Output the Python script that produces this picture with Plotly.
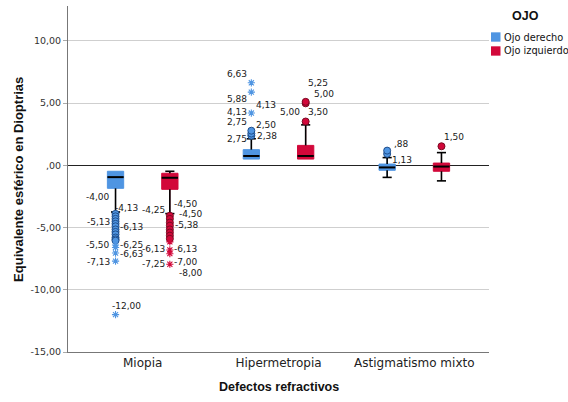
import plotly.graph_objects as go

# ---------------- data ----------------
categories = ["Miopia", "Hipermetropia", "Astigmatismo mixto"]
y_tick_vals = [-15, -10, -5, 0, 5, 10]
y_tick_text = ["-15,00", "-10,00", "-5,00", ",00", "5,00", "10,00"]

# Ojo derecho (right eye)
der_q1 = [-1.85, 0.50, -0.40]
der_median = [-0.95, 0.75, -0.17]
der_q3 = [-0.48, 1.26, 0.10]
der_lower = [-3.75, 0.50, -0.97]
der_upper = [-0.48, 2.13, 0.62]
der_out_cat = [0] * 12 + [1, 1, 1] + [2, 2]
der_out_val = [-3.9, -4.1, -4.3, -4.5, -4.7, -4.9, -5.15, -5.35, -5.55, -5.8, -5.95, -6.05,
               2.38, 2.55, 2.78, 0.92, 1.18]
der_ext_cat = [0, 0, 0, 0, 0, 1, 1, 1]
der_ext_val = [-6.4, -6.6, -7.05, -7.7, -12.0, 4.2, 5.88, 6.63]

# Ojo izquierdo (left eye)
izq_q1 = [-1.93, 0.50, -0.48]
izq_median = [-1.00, 0.75, -0.10]
izq_q3 = [-0.64, 1.60, 0.18]
izq_lower = [-3.88, 0.50, -1.25]
izq_upper = [-0.48, 3.25, 1.02]
izq_out_cat = [0] * 8 + [1, 1, 1] + [2]
izq_out_val = [-4.05, -4.3, -4.6, -4.85, -5.15, -5.4, -5.65, -5.9,
               3.52, 4.98, 5.1, 1.53]
izq_ext_cat = [0, 0, 0, 0]
izq_ext_val = [-6.15, -6.8, -7.1, -7.95]

# outlier case labels (text, x in axis units, y in axis units, side)
label_text = ["-4,00", "-4,13", "-5,13", "-6,13", "-5,50", "-6,25", "-6,63", "-7,13", "-12,00",
              "-4,50", "-4,25", "-4,50", "-5,38", "-6,13", "-6,13", "-7,25", "-7,00", "-8,00",
              "6,63", "5,88", "4,13", "4,13", "2,75", "2,50", "2,75", "2,38",
              "5,25", "5,00", "5,00", "3,50",
              ",88", "1,13", "1,50"]
label_x = [-0.225, -0.219, -0.225, -0.179, -0.225, -0.179, -0.182, -0.225, -0.238,
           0.217, 0.182, 0.253, 0.226, 0.182, 0.219, 0.182, 0.219, 0.253,
           0.780, 0.780, 0.816, 0.780, 0.780, 0.816, 0.780, 0.829,
           1.200, 1.248, 1.175, 1.200,
           1.836, 1.822, 2.204]
label_y = [-2.52, -3.41, -4.53, -4.98, -6.40, -6.40, -7.15, -7.79, -11.28,
           -3.11, -3.59, -3.91, -4.80, -6.75, -6.75, -7.93, -7.75, -8.63,
           7.34, 5.30, 4.84, 4.26, 3.50, 3.24, 2.09, 2.35,
           6.59, 5.70, 4.31, 4.31,
           1.71, 0.43, 2.30]
label_side = ["r", "l", "r", "l", "r", "l", "l", "r", "l",
              "l", "r", "l", "l", "r", "l", "r", "l", "l",
              "r", "r", "l", "r", "r", "l", "r", "l",
              "l", "l", "r", "l",
              "l", "l", "l"]

series_names = ["Ojo derecho", "Ojo izquierdo"]

# ---------------- style ----------------
BLUE = "#4F95E2"
RED = "#D2083A"
BLUE_EDGE = "#1F4E8C"
RED_EDGE = "#7A0A22"
OFFSET = 0.2
BOX_W = 0.12
FONT = "DejaVu Sans, Verdana, sans-serif"
BFONT = "Liberation Sans, Arial, sans-serif"

fig = go.Figure()

def add_series(q1, med, q3, lo, hi, oc, ov, ec, ev, color, edge, off):
    xs = [i + off for i in range(len(categories))]
    fig.add_trace(go.Box(
        x=xs, q1=q1, median=med, q3=q3, lowerfence=lo, upperfence=hi,
        fillcolor=color, line=dict(color=color, width=1), width=BOX_W,
        whiskerwidth=0, boxpoints=False, showlegend=False, hoverinfo="skip"))
    # black whiskers, caps and median
    lx, ly = [], []
    cap = BOX_W * 0.28
    for x, a, m, b, l, h in zip(xs, q1, med, q3, lo, hi):
        lx += [x, x, None, x, x, None]
        ly += [b, h, None, a, l, None]
        if h > b + 0.05:
            lx += [x - cap, x + cap, None]
            ly += [h, h, None]
        if l < a - 0.05:
            lx += [x - cap, x + cap, None]
            ly += [l, l, None]
    fig.add_trace(go.Scatter(x=lx, y=ly, mode="lines",
                             line=dict(color="black", width=1.6),
                             showlegend=False, hoverinfo="skip"))
    mx, my = [], []
    for x, m in zip(xs, med):
        mx += [x - BOX_W / 2, x + BOX_W / 2, None]
        my += [m, m, None]
    fig.add_trace(go.Scatter(x=mx, y=my, mode="lines",
                             line=dict(color="black", width=2),
                             showlegend=False, hoverinfo="skip"))
    fig.add_trace(go.Scatter(
        x=[c + off for c in oc], y=ov, mode="markers",
        marker=dict(symbol="circle", size=7, color=color,
                    line=dict(color=edge, width=1)),
        showlegend=False, hoverinfo="skip"))
    fig.add_trace(go.Scatter(
        x=[c + off for c in ec], y=ev, mode="markers",
        marker=dict(symbol="asterisk-open", size=6, color=color,
                    line=dict(color=color, width=1.1)),
        showlegend=False, hoverinfo="skip"))

add_series(der_q1, der_median, der_q3, der_lower, der_upper,
           der_out_cat, der_out_val, der_ext_cat, der_ext_val, BLUE, BLUE_EDGE, -OFFSET)
add_series(izq_q1, izq_median, izq_q3, izq_lower, izq_upper,
           izq_out_cat, izq_out_val, izq_ext_cat, izq_ext_val, RED, RED_EDGE, OFFSET)

annotations = []
for t, x, y, s in zip(label_text, label_x, label_y, label_side):
    annotations.append(dict(
        x=x, y=y, xref="x", yref="y", text=t, showarrow=False,
        xanchor="right" if s == "r" else "left", yanchor="middle",
        font=dict(family=FONT, size=9, color="#1a1a1a")))

# axis titles
annotations.append(dict(x=0.5, y=-0.101, xref="paper", yref="paper",
                        text="<b>Defectos refractivos</b>", showarrow=False,
                        xanchor="center", yanchor="middle",
                        font=dict(family=BFONT, size=12.5, color="#111")))
annotations.append(dict(x=-0.119, y=0.5, xref="paper", yref="paper",
                        text="<b>Equivalente esférico en Dioptrias</b>", showarrow=False,
                        textangle=-90, xanchor="center", yanchor="middle",
                        font=dict(family=BFONT, size=13, color="#111")))
# legend (custom)
annotations.append(dict(x=1.087, y=0.972, xref="paper", yref="paper",
                        text="<b>OJO</b>", showarrow=False,
                        xanchor="center", yanchor="middle",
                        font=dict(family=BFONT, size=12.5, color="#111")))
shapes = []
legend_colors = [BLUE, RED]
legend_y = [0.9104, 0.870]
for name, col, yc in zip(series_names, legend_colors, legend_y):
    shapes.append(dict(type="rect", xref="paper", yref="paper",
                       x0=1.0048, x1=1.0273, y0=yc - 0.0135, y1=yc + 0.0135,
                       fillcolor=col, line=dict(width=0)))
    annotations.append(dict(x=1.030, y=yc, xref="paper", yref="paper",
                            text=name, showarrow=False,
                            xanchor="left", yanchor="middle",
                            font=dict(family=FONT, size=9.8, color="#111")))

fig.update_layout(
    width=568, height=402,
    margin=dict(l=68, r=79, t=6, b=50),
    paper_bgcolor="white", plot_bgcolor="white",
    showlegend=False,
    annotations=annotations, shapes=shapes,
    xaxis=dict(range=[-0.55, 2.55], tickvals=[0, 1, 2], ticktext=categories,
               showgrid=False, zeroline=False, showline=True,
               linecolor="#777", linewidth=1, ticks="",
               tickfont=dict(family=FONT, size=12, color="#222")),
    yaxis=dict(range=[-15, 12.8], tickvals=y_tick_vals, ticktext=y_tick_text,
               showgrid=True, gridcolor="#cfcfcf", gridwidth=1,
               zeroline=True, zerolinecolor="#222", zerolinewidth=1.2,
               showline=True, linecolor="#777", linewidth=1,
               ticks="outside", ticklen=4, tickcolor="#aaa",
               tickfont=dict(family=FONT, size=9.5, color="#333")),
)

fig.write_html("out.html", config={"displayModeBar": False},
               post_script="document.body.style.margin='0';")
